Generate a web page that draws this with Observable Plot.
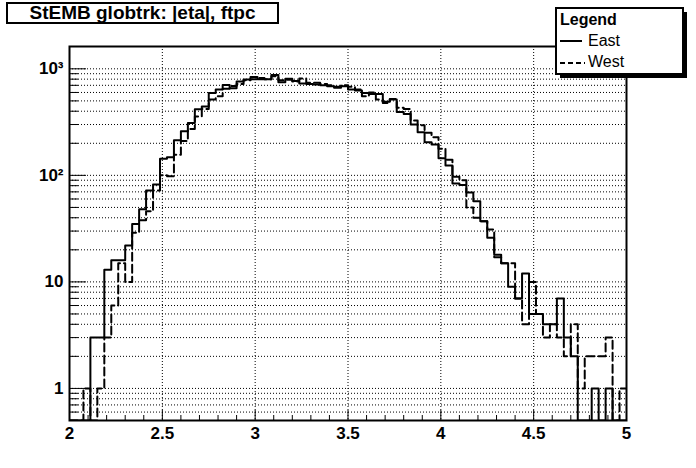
<!DOCTYPE html>
<html><head><meta charset="utf-8">
<script src="https://cdn.jsdelivr.net/npm/d3@7"></script>
<script src="https://cdn.jsdelivr.net/npm/@observablehq/plot@0.6"></script>
<style>
body{margin:0;background:#fff;font-family:"Liberation Sans",Arial,sans-serif;}
#wrap{position:relative;width:696px;height:468px;}
#title{position:absolute;left:6px;top:2px;width:273px;height:22px;box-sizing:border-box;border:2px solid #000;background:#fff;font-weight:bold;font-size:19px;text-align:center;line-height:18px;}
#legend{position:absolute;left:555px;top:7px;}
</style></head><body>
<div id="wrap"></div>
<script>
// histogram binning
const xMin = 2, xMax = 5, nBins = 80;
// bin contents (counts), East and West
const east = [0,0,0,3,3,13,16,16,22,35,48,72,82,143,148,214,259,310,418,444,
  594,640,706,657,759,792,839,798,798,876,748,809,770,727,721,711,700,685,666,685,
  638,625,594,581,581,490,514,394,377,300,254,205,195,145,124,84,81,69,57,37,
  26,18,15,9,7,12,5,5,4,4,7,3,2,0,0,1,0,1,0,0];
const west = [0,0,1,0,1,3,6,15,10,29,38,46,72,100,98,156,210,273,356,420,
  514,552,650,690,720,780,800,820,800,850,780,790,760,810,740,740,720,700,680,700,
  680,640,552,600,514,478,520,430,420,327,295,251,228,178,140,97,90,50,40,37,
  31,17,15,15,7,4,10,5,3,4,3,2,4,1,2,2,2,3,0,1];
const seriesNames = ["East", "West"];
const titleText = "StEMB globtrk: |eta|, ftpc";
const yDomain = [0.5, 1620];
const yMajor = [1, 10, 100, 1000];
const yMinor = [0.6,0.7,0.8,0.9,2,3,4,5,6,7,8,9,20,30,40,50,60,70,80,90,200,300,400,500,600,700,800,900];
const xMajor = [2, 2.5, 3, 3.5, 4, 4.5, 5];
const xMinor = d3.range(21, 50).map(d => d / 10).filter(d => Math.abs(d * 2 - Math.round(d * 2)) > 1e-9);
const xGrid = [2.5, 3, 3.5, 4, 4.5];
const yLabels = {1: "1", 10: "10", 100: "10\u00B2", 1000: "10\u00B3"};

const bw = (xMax - xMin) / nBins;
function steps(vals) {
  const pts = [];
  vals.forEach((v, i) => {
    const y = v > 0 ? v : yDomain[0];
    pts.push({x: xMin + i * bw, y}, {x: xMin + (i + 1) * bw, y});
  });
  return pts;
}

const wrap = document.getElementById("wrap");
const chart = Plot.plot({
  width: 696, height: 468,
  marginLeft: 69, marginRight: 70, marginTop: 46, marginBottom: 48,
  x: {domain: [xMin, xMax]},
  y: {type: "log", domain: yDomain},
  style: {fontFamily: "Liberation Sans, Arial, sans-serif", fontWeight: "bold", fontSize: "17px", color: "black", background: "white"},
  marks: [
    Plot.gridY({ticks: yMajor.concat(yMinor), stroke: "black", strokeOpacity: 1, strokeDasharray: "1,2"}),
    Plot.gridX({ticks: xGrid, stroke: "black", strokeOpacity: 1, strokeDasharray: "1,2"}),
    Plot.line(steps(east), {x: "x", y: "y", stroke: "black", strokeWidth: 2, clip: true}),
    Plot.line(steps(west), {x: "x", y: "y", stroke: "black", strokeWidth: 2, strokeDasharray: "8,4", clip: true}),
    Plot.axisY({ticks: yMinor, tickSize: 9, dx: 9, tickFormat: () => "", label: null}),
    Plot.axisY({ticks: yMajor, tickSize: 17, dx: 17, tickFormat: () => "", label: null}),
    Plot.axisY({ticks: yMajor, tickSize: 0, tickPadding: 6, tickFormat: d => yLabels[d], label: null, fontSize: 17}),
    Plot.axisX({ticks: xMinor, tickSize: 5, dy: -5, tickFormat: () => "", label: null}),
    Plot.axisX({ticks: xMajor, tickSize: 10, dy: -10, tickFormat: () => "", label: null}),
    Plot.axisX({ticks: xMajor, tickSize: 0, tickPadding: 6, tickFormat: d => String(d), label: null, fontSize: 17}),
    Plot.frame({stroke: "black", strokeWidth: 2})
  ]
});
wrap.appendChild(chart);

const title = document.createElement("div");
title.id = "title";
title.textContent = titleText;
wrap.appendChild(title);

const ns = "http://www.w3.org/2000/svg";
const leg = document.createElementNS(ns, "svg");
leg.setAttribute("id", "legend");
leg.setAttribute("width", 136);
leg.setAttribute("height", 74);
leg.innerHTML = `
  <rect x="5" y="5" width="127" height="66" fill="black"/>
  <rect x="1" y="1" width="127" height="66" fill="white" stroke="black" stroke-width="2"/>
  <text x="5" y="18" font-family="Liberation Sans, Arial, sans-serif" font-weight="bold" font-size="16">Legend</text>
  <line x1="5" x2="27" y1="34" y2="34" stroke="black" stroke-width="2"/>
  <text x="33" y="39" font-family="Liberation Sans, Arial, sans-serif" font-size="16">${seriesNames[0]}</text>
  <line x1="5" x2="30" y1="56" y2="56" stroke="black" stroke-width="2" stroke-dasharray="5,3"/>
  <text x="33" y="60" font-family="Liberation Sans, Arial, sans-serif" font-size="16">${seriesNames[1]}</text>`;
wrap.appendChild(leg);
</script>
</body></html>
